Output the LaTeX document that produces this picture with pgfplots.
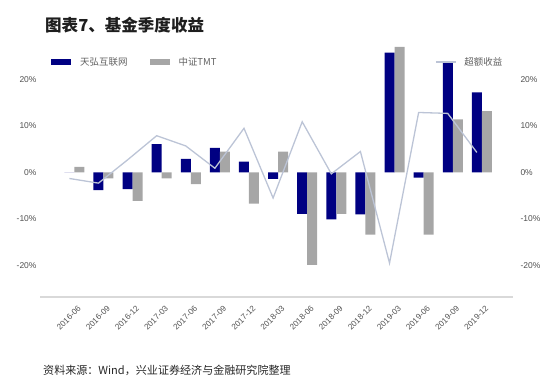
\documentclass[border=0pt]{standalone}
\usepackage{pgfplots}
\usepackage{pgfplotstable}
\pgfplotsset{compat=1.18}
\usepackage{fontspec}
\setmainfont{Liberation Sans}
\newfontfamily\cjk{Noto Sans CJK SC}
\definecolor{navy}{RGB}{0,0,130}
\definecolor{tmtgray}{RGB}{166,166,166}
\definecolor{linecol}{RGB}{188,196,214}
\definecolor{tickcol}{RGB}{80,80,80}
\definecolor{legcol}{RGB}{95,95,95}
\definecolor{axiscol}{RGB}{217,217,217}
\definecolor{titlecol}{RGB}{30,30,30}

\pgfplotstableread{
x y
0 0.0
1 -3.8
2 -3.6
3 6.1
4 2.9
5 5.3
6 2.3
7 -1.4
8 -8.9
9 -10.1
10 -9.0
11 25.8
12 -1.1
13 23.8
14 17.2
}\fundtab
\pgfplotstableread{
x y
0 1.2
1 -1.3
2 -6.1
3 -1.3
4 -2.5
5 4.5
6 -6.7
7 4.5
8 -19.9
9 -8.9
10 -13.4
11 27.0
12 -13.4
13 11.4
14 13.2
}\tmttab
\pgfplotstableread{
x y
-0.172 -1.3
0.828 -2.3
1.828 2.7
2.828 7.9
3.828 5.7
4.828 0.9
5.828 9.5
6.828 -5.5
7.828 10.9
8.828 -0.3
9.828 4.5
10.828 -19.5
11.828 12.9
12.828 12.7
13.828 4.3
}\excesstab

\begin{document}
\begin{tikzpicture}
\path[use as bounding box] (0,0) rectangle (550bp,387bp);
\node[anchor=west, inner sep=0pt, text=titlecol] at (45bp,362bp) {\cjk\bfseries\fontsize{16.6}{18}\selectfont 图表7、基金季度收益};
\node[anchor=west, inner sep=0pt, text=black!85] at (43bp,17bp) {\cjk\fontsize{11.1}{13}\selectfont 资料来源：Wind，兴业证券经济与金融研究院整理};

\begin{axis}[
  at={(40bp,90bp)}, anchor=south west,
  width=473bp, height=264bp, scale only axis,
  xmin=-1.18, xmax=15.07, ymin=-26.8, ymax=30,
  axis x line*=bottom, axis y line*=left,
  x axis line style={draw=axiscol, line width=1.5bp},
  y axis line style={draw=none},
  major tick length=0pt,
  xtick={0,...,14},
  xticklabels={2016-06,2016-09,2016-12,2017-03,2017-06,2017-09,2017-12,2018-03,2018-06,2018-09,2018-12,2019-03,2019-06,2019-09,2019-12},
  ytick={-20,-10,0,10,20},
  yticklabels={-20\%,-10\%,0\%,10\%,20\%},
  tick label style={font=\fontsize{8.5}{10}\selectfont, text=tickcol},
  xticklabel style={font=\fontsize{8.2}{10}\selectfont, xshift=3bp, yshift=-8bp, rotate=45, anchor=north east, inner sep=0pt},
  clip=false,
  legend style={at={(0.0233,0.890)}, anchor=west, draw=none, fill=none,
    legend columns=2, inner sep=0pt,
    nodes={inner sep=0pt, text=legcol, font=\cjk\fontsize{9.5}{11}\selectfont},
    /tikz/every odd column/.append style={column sep=9bp},
    /tikz/every even column/.append style={column sep=22bp}},
  legend image code/.code={\fill[#1] (0bp,-3bp) rectangle (20bp,3bp);},
]
\addplot[ybar, bar width=10bp, bar shift=-5bp, fill=navy, draw=none] table[x=x,y=y] {\fundtab};
\addlegendentry{天弘互联网}
\addplot[ybar, bar width=10bp, bar shift=5bp, fill=tmtgray, draw=none] table[x=x,y=y] {\tmttab};
\addlegendentry{中证TMT}
\end{axis}

\begin{axis}[
  at={(40bp,90bp)}, anchor=south west,
  width=473bp, height=264bp, scale only axis,
  xmin=-1.18, xmax=15.07, ymin=-26.8, ymax=30,
  axis x line=none, axis y line*=right,
  y axis line style={draw=none},
  major tick length=0pt,
  ytick={-20,-10,0,10,20},
  yticklabels={-20\%,-10\%,0\%,10\%,20\%},
  tick label style={font=\fontsize{8.5}{10}\selectfont, text=tickcol},
  yticklabel style={xshift=4bp},
  clip=false,
  legend style={at={(0.835,0.890)}, anchor=west, draw=none, fill=none,
    inner sep=0pt,
    nodes={inner sep=0pt, text=legcol, font=\cjk\fontsize{9.5}{11}\selectfont},
    /tikz/every odd column/.append style={column sep=8bp}},
  legend image code/.code={\draw[#1] (0bp,0bp) -- (20bp,0bp);},
]
\addplot[color=linecol, line width=1.3bp, mark=none] table[x=x, y=y] {\excesstab};
\addlegendentry{超额收益}
\end{axis}
\end{tikzpicture}
\end{document}
